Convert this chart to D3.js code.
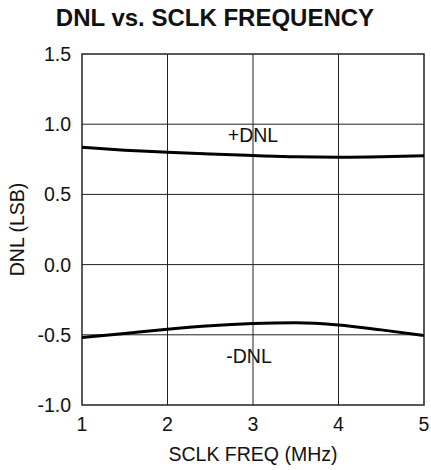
<!DOCTYPE html>
<html>
<head>
<meta charset="utf-8">
<script src="https://cdn.jsdelivr.net/npm/d3@7"></script>
<style>
  body { margin: 0; background: #fff; }
  text { font-family: "Liberation Sans", Arial, sans-serif; fill: #111; }
</style>
</head>
<body>
<div id="graph"></div>
<script>
// SCLK frequency (MHz)
var freq = [1, 1.5, 2, 2.5, 3, 3.5, 4, 4.5, 5]
// DNL in LSB
var dnlPos = [0.835, 0.815, 0.800, 0.787, 0.777, 0.768, 0.765, 0.768, 0.776]
var dnlNeg = [-0.52, -0.49, -0.46, -0.435, -0.42, -0.415, -0.43, -0.465, -0.505]

var xTicks = [1, 2, 3, 4, 5]
var yTicks = [-1.0, -0.5, 0.0, 0.5, 1.0, 1.5]

var W = 431, H = 470
var margin = {top: 54, right: 7, bottom: 65, left: 82}

var svg = d3.select('#graph').append('svg')
  .attr('width', W).attr('height', H)

var x = d3.scaleLinear().domain([1, 5]).range([margin.left, W - margin.right])
var y = d3.scaleLinear().domain([-1, 1.5]).range([H - margin.bottom, margin.top])

// plain hyphen, like the original
var fmt = d => d3.format('.1f')(d).replace('\u2212', '-')

// title
svg.append('text')
  .attr('x', 215).attr('y', 26)
  .attr('text-anchor', 'middle')
  .style('font-size', '24px').style('font-weight', 'bold')
  .text('DNL vs. SCLK FREQUENCY')

// grid
svg.append('g').selectAll('line').data(xTicks.slice(1, -1)).join('line')
  .attr('x1', x).attr('x2', x)
  .attr('y1', y(-1)).attr('y2', y(1.5))
  .attr('stroke', '#222').attr('stroke-width', 1)

svg.append('g').selectAll('line').data(yTicks.slice(1, -1)).join('line')
  .attr('x1', x(1)).attr('x2', x(5))
  .attr('y1', y).attr('y2', y)
  .attr('stroke', '#222').attr('stroke-width', 1)

// frame
svg.append('rect')
  .attr('x', x(1)).attr('y', y(1.5))
  .attr('width', x(5) - x(1)).attr('height', y(-1) - y(1.5))
  .attr('fill', 'none').attr('stroke', '#222').attr('stroke-width', 1.5)

// tick labels
svg.append('g').selectAll('text').data(yTicks).join('text')
  .attr('x', x(1) - 11).attr('y', d => y(d) + 7)
  .attr('text-anchor', 'end')
  .style('font-size', '19.5px')
  .text(fmt)

svg.append('g').selectAll('text').data(xTicks).join('text')
  .attr('x', x).attr('y', y(-1) + 26)
  .attr('text-anchor', 'middle')
  .style('font-size', '19.5px')
  .text(d => d)

// axis titles
svg.append('text')
  .attr('x', x(3)).attr('y', 461)
  .attr('text-anchor', 'middle')
  .style('font-size', '19.5px')
  .text('SCLK FREQ (MHz)')

svg.append('text')
  .attr('transform', 'translate(24,' + y(0.25) + ') rotate(-90)')
  .attr('text-anchor', 'middle')
  .style('font-size', '19.5px')
  .text('DNL (LSB)')

// curves
var line = d3.line()
  .x((d, i) => x(freq[i]))
  .y(d => y(d))
  .curve(d3.curveMonotoneX)

svg.append('path').datum(dnlPos)
  .attr('d', line)
  .attr('fill', 'none').attr('stroke', '#000').attr('stroke-width', 3)

svg.append('path').datum(dnlNeg)
  .attr('d', line)
  .attr('fill', 'none').attr('stroke', '#000').attr('stroke-width', 3)

// curve labels
svg.append('text')
  .attr('x', x(3)).attr('y', y(0.87))
  .attr('text-anchor', 'middle')
  .style('font-size', '19.5px')
  .text('+DNL')

svg.append('text')
  .attr('x', x(3) - 4).attr('y', y(-0.70))
  .attr('text-anchor', 'middle')
  .style('font-size', '19.5px')
  .text('-DNL')
</script>
</body>
</html>
